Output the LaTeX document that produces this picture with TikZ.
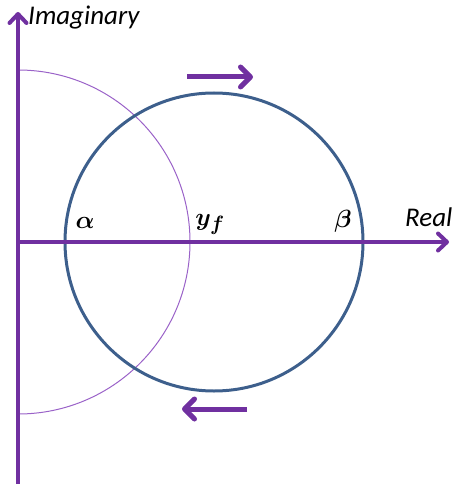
\documentclass[tikz,border=0pt]{standalone}
\usepackage{fontspec}
\setmainfont{Carlito}
\usetikzlibrary{arrows.meta}
\definecolor{axpurple}{HTML}{7030A0}
\definecolor{thinpurple}{HTML}{9A62C8}
\definecolor{circblue}{HTML}{3D5F8C}
\tikzset{
  axis/.style={draw=axpurple, line width=4pt, -{Straight Barb[length=9pt, width=17pt, line width=4pt, round]}},
  dirarrow/.style={draw=axpurple, line width=5pt, -{Straight Barb[length=10pt, width=20pt, line width=5pt, round]}},
  lbl/.style={font=\fontsize{27}{30}\selectfont\itshape, inner sep=0pt, anchor=base west},
  mlbl/.style={font=\fontsize{32}{36}\selectfont\boldmath, inner sep=0pt, anchor=base},
}
\begin{document}
\begin{tikzpicture}[x=1pt, y=-1pt]
\useasboundingbox (0,0) rectangle (455,484);
% origin and axis ends
\coordinate (O) at (18,242);
\coordinate (ytop) at (18,12);
\coordinate (ybot) at (18,484);
\coordinate (xend) at (449,242);
% thin semicircle
\draw[thinpurple, line width=1pt] (18,70) arc[start angle=90, end angle=-90, x radius=172pt, y radius=172pt];
% big circle
\coordinate (C) at (214,242);
\draw[circblue, line width=3pt] (C) circle[radius=149pt];
% axes
\draw[axis] (ybot) -- (ytop);
\draw[axis] (O) -- (xend);
% direction arrows
\coordinate (ta1) at (187,77);
\coordinate (ta2) at (253,77);
\coordinate (ba1) at (247,409);
\coordinate (ba2) at (182,409);
\draw[dirarrow] (ta1) -- (ta2);
\draw[dirarrow] (ba1) -- (ba2);
% labels
\node[lbl] (imag) at (28,25) {Imaginary};
\node[lbl] (real) at (405,226) {Real};
\node[mlbl] (alpha) at (85,228) {$\alpha$};
\node[mlbl] (yf) at (210,225) {$y_f$};
\node[mlbl] (beta) at (343,227) {$\beta$};
\end{tikzpicture}
\end{document}
